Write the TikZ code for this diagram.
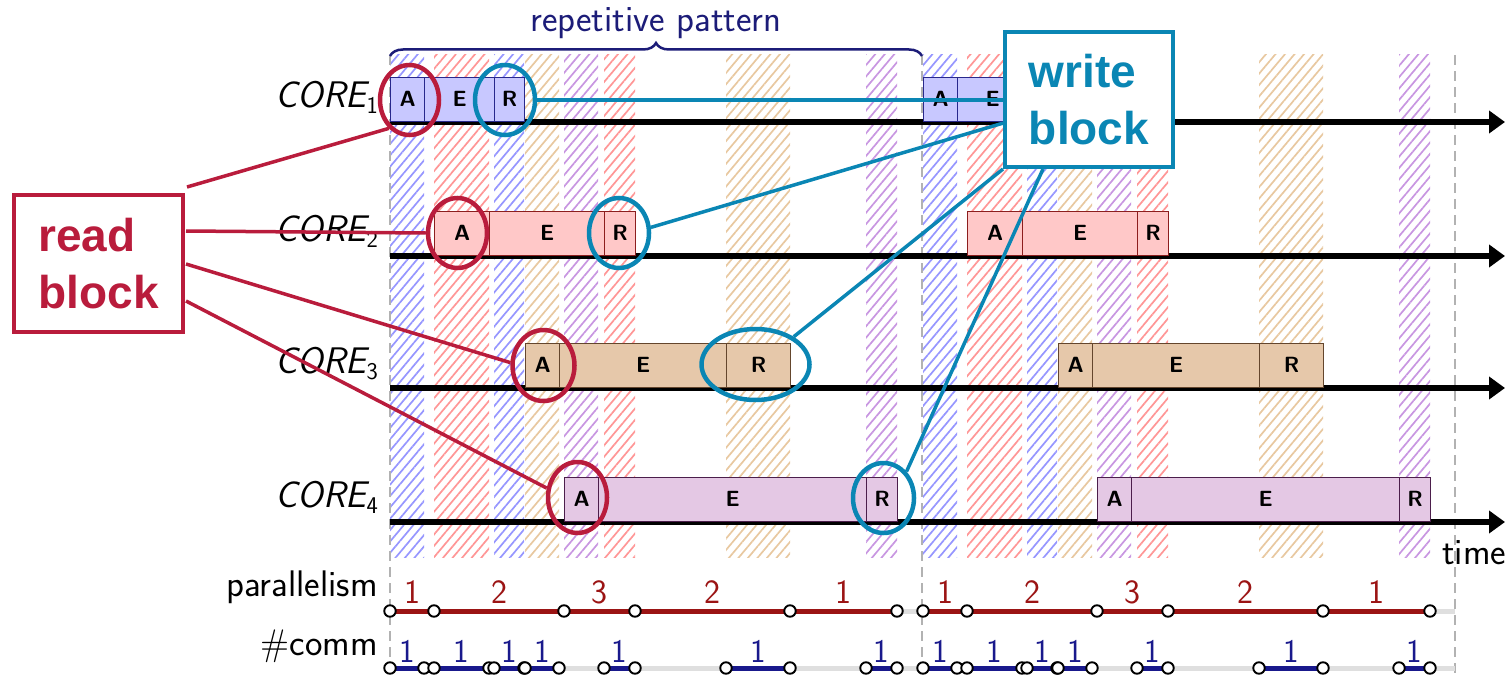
\documentclass[tikz,border=0pt]{standalone}
\usepackage{fontspec}
\newfontfamily\calloutfont{Liberation Sans}
\usetikzlibrary{arrows.meta,shapes.geometric,decorations.pathreplacing,calc,patterns.meta}

% core colours: fill, border, hatch
\definecolor{c1fill}{RGB}{200,200,255}\definecolor{c1line}{RGB}{40,40,140}\definecolor{c1hatch}{RGB}{150,150,255}
\definecolor{c2fill}{RGB}{255,200,200}\definecolor{c2line}{RGB}{140,30,30}\definecolor{c2hatch}{RGB}{255,150,150}
\definecolor{c3fill}{RGB}{230,200,170}\definecolor{c3line}{RGB}{100,70,45}\definecolor{c3hatch}{RGB}{232,200,160}
\definecolor{c4fill}{RGB}{228,200,228}\definecolor{c4line}{RGB}{75,30,75}\definecolor{c4hatch}{RGB}{200,150,225}
\definecolor{navyband}{RGB}{28,28,120}
\definecolor{parred}{RGB}{155,20,20}
\definecolor{commblue}{RGB}{25,25,140}
\definecolor{readred}{RGB}{185,28,60}
\definecolor{writeblue}{RGB}{10,134,180}

\begin{document}
\begin{tikzpicture}[x=1pt,y=-1pt,
  blk/.style={draw=c#1line, fill=c#1fill, line width=1.4pt, inner sep=0pt, minimum height=44pt,
    anchor=south west, font=\sffamily\bfseries\fontsize{22}{22}\selectfont},
  hatch/.style={pattern={Lines[angle=50,distance=7.3pt,line width=1.7pt]}, pattern color=c#1hatch},
  timeline/.style={line width=5.5pt, -{Triangle[length=16pt,width=22pt]}},
  guide/.style={gray!60, line width=1.5pt, dash pattern=on 10pt off 6pt},
  rowbase/.style={gray!25, line width=5pt},
  parseg/.style={parred, line width=5pt},
  commseg/.style={commblue, line width=5pt},
  rowdot/.style={circle, draw=black, fill=white, line width=1.9pt, minimum size=11.5pt, inner sep=0pt},
  parnum/.style={parred, font=\sffamily\fontsize{34}{34}\selectfont, anchor=base, yshift=8pt},
  commnum/.style={commblue, font=\sffamily\fontsize{33}{33}\selectfont, anchor=base, yshift=6pt},
  rowlabel/.style={font=\sffamily\fontsize{37}{44}\selectfont, anchor=base east, inner sep=0pt},
  corelabel/.style={font=\sffamily\fontsize{37}{44}\selectfont, anchor=base east, inner sep=0pt},
  readring/.style={ellipse, draw=readred, line width=4.5pt, inner sep=0pt},
  writering/.style={ellipse, draw=writeblue, line width=4.5pt, inner sep=0pt},
  readlink/.style={readred, line width=3.5pt},
  writelink/.style={writeblue, line width=3.5pt},
  notebox/.style={fill=white, line width=4pt, align=left, inner sep=0pt,
    font=\calloutfont\bfseries\fontsize{46}{57}\selectfont},
]
\useasboundingbox (0,0) rectangle (1506,677);

% hatched communication columns (A and R phases of each core)
\foreach \c/\a/\e/\r/\z in {1/0/34/104/134, 2/44/99/214/245, 3/135/169/336/400, 4/174/208/476/507}{
  \foreach \p in {0,1}{
    \pgfmathsetmacro{\o}{390+533*\p}
    \fill[hatch=\c] (\o+\a,55) rectangle (\o+\e,557);
    \fill[hatch=\c] (\o+\r,55) rectangle (\o+\z,557);
  }
}

% period boundaries
\foreach \x [count=\k] in {390,922,1455}{
  \coordinate (gtop\k) at (\x,55);
  \coordinate (gbot\k) at (\x,677);
  \draw[guide] (gtop\k) -- (gbot\k);
}

% time axes
\foreach \c/\ty in {1/122,2/256,3/388,4/522}{
  \coordinate (ts\c) at (390,\ty);
  \coordinate (te\c) at (1505,\ty);
  \draw[timeline] (ts\c) -- (te\c);
  \node[corelabel] (lab\c) at (378,\ty-15) {\itshape CORE\raisebox{-6pt}{\upshape\fontsize{24}{24}\selectfont\c}};
}

% task blocks: acquisition, execution, restitution
\foreach \c/\ty/\a/\e/\r/\z in {1/122/0/34/104/134, 2/256/44/99/214/245, 3/388/135/169/336/400, 4/522/174/208/476/507}{
  \foreach \p in {0,1}{
    \pgfmathsetmacro{\o}{390+533*\p}
    \node[blk=\c, minimum width={\e-\a}] (a\c-\p) at (\o+\a,\ty) {A};
    \node[blk=\c, minimum width={\r-\e}] (e\c-\p) at (\o+\e,\ty) {E};
    \node[blk=\c, minimum width={\z-\r}] (r\c-\p) at (\o+\r,\ty) {R};
  }
}
\node[anchor=base west, inner sep=0pt, font=\sffamily\fontsize{37}{44}\selectfont] (timelab) at (1442,564) {time};

% repetitive pattern brace
\coordinate (patL) at (390,56);
\coordinate (patR) at (922,56);
\draw[navyband, line width=2.5pt, decorate, decoration={brace, amplitude=13pt}] (patL) -- (patR);
\node[navyband, anchor=base, inner sep=0pt, font=\sffamily\fontsize{37}{44}\selectfont] (reptext) at (656,32) {repetitive pattern};

% parallelism and communication rows
\node[rowlabel] (parlab) at (378,596) {parallelism};
\node[rowlabel] (commlab) at (378,655) {\#comm};
\coordinate (parS) at (390,611); \coordinate (parE) at (1455,611);
\coordinate (comS) at (390,668); \coordinate (comE) at (1455,668);
\draw[rowbase] (parS) -- (parE);
\draw[rowbase] (comS) -- (comE);

\foreach \p in {0,1}{
  \pgfmathsetmacro{\o}{390+533*\p}
  \foreach \t [count=\k] in {0,44,174,245,400,507}
    \coordinate (par\p-\k) at (\o+\t,611);
  \foreach \k/\n in {1/1,2/2,3/3,4/2,5/1}{
    \pgfmathtruncatemacro{\kk}{\k+1}
    \draw[parseg] (par\p-\k) -- node[parnum] (pn\p-\k) {\n} (par\p-\kk);
  }
  \foreach \k in {1,...,6}
    \node[rowdot] (pd\p-\k) at (par\p-\k) {};

  \foreach \s/\f [count=\k] in {0/34,44/99,104/134,135/169,214/245,336/400,476/507}{
    \coordinate (cs\p-\k) at (\o+\s,668);
    \coordinate (cf\p-\k) at (\o+\f,668);
    \draw[commseg] (cs\p-\k) -- node[commnum] (cn\p-\k) {1} (cf\p-\k);
    \node[rowdot] (cds\p-\k) at (cs\p-\k) {};
    \node[rowdot] (cdf\p-\k) at (cf\p-\k) {};
  }
}

% read annotations
\node[readring, minimum width=59pt, minimum height=70pt] (rc1) at (409.5,100) {};
\node[readring, minimum width=59pt, minimum height=70pt] (rc2) at (457.5,233) {};
\node[readring, minimum width=62pt, minimum height=71pt] (rc3) at (543.5,365.5) {};
\node[readring, minimum width=59pt, minimum height=71pt] (rc4) at (577.5,497.5) {};
\node[notebox, draw=readred, text=readred, minimum width=169pt, minimum height=137pt] (readbox) at (98.5,263.5) {read\\block};
\draw[readlink] ($(readbox.north east)+(2,-6)$) -- (rc1.234);
\draw[readlink] ($(readbox.north east)+(1,38)$) -- (rc2.west);
\draw[readlink] ($(readbox.north east)+(1,71)$) -- (rc3.175);
\draw[readlink] ($(readbox.north east)+(1,108)$) -- (rc4.163);

% write annotations
\node[writering, minimum width=60pt, minimum height=70pt] (wc1) at (505,100) {};
\node[writering, minimum width=60pt, minimum height=70pt] (wc2) at (619,233) {};
\node[writering, minimum width=108pt, minimum height=71pt] (wc3) at (755.5,364.5) {};
\node[writering, minimum width=61pt, minimum height=70pt] (wc4) at (883.5,498) {};
\node[notebox, draw=writeblue, text=writeblue, minimum width=168pt, minimum height=135pt] (writebox) at (1089,99.5) {write\\block};
\draw[writelink] (wc1.east) -- (wc1.east -| writebox.west);
\draw[writelink] (wc2.10) -- ($(writebox.south west)!0.33!(writebox.north west)$);
\draw[writelink] (wc3.36) -- (writebox.south west);
\draw[writelink] (wc4.49) -- ($(writebox.south west)+(40,0)$);
\end{tikzpicture}
\end{document}
